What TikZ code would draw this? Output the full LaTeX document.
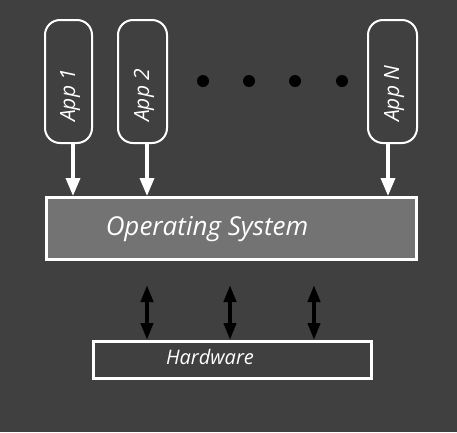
\documentclass[tikz,border=0pt]{standalone}
\usepackage{fontspec}
\setmainfont{Open Sans}
\usetikzlibrary{arrows.meta}
\definecolor{bg}{HTML}{404040}
\definecolor{osgray}{HTML}{737373}
\begin{document}
\begin{tikzpicture}[x=1pt,y=-1pt,
  appbox/.style={draw=white,line width=2pt,rounded corners=15pt,inner sep=0pt},
  applabel/.style={text=white,font=\itshape\fontsize{21}{21}\selectfont,rotate=90,anchor=base west,inner sep=0pt},
  downarrow/.style={draw=white,line width=3.5pt,-{Triangle[width=14pt,length=18pt]}},
  dblarrow/.style={draw=black,line width=4pt,{Triangle[width=12pt,length=17pt]}-{Triangle[width=12pt,length=17pt]}},
  dotstyle/.style={circle,fill=black,inner sep=0pt,minimum size=12pt}]
\fill[bg] (0,0) rectangle (457,432);
\useasboundingbox (0,0) rectangle (457,432);
% apps
\draw[appbox] (45,20) rectangle (92,143);
\draw[appbox] (118,20) rectangle (167,143);
\draw[appbox] (368,20) rectangle (417,143);
\node[applabel] (l1) at (75,122) {App 1};
\node[applabel] (l2) at (149,122) {App 2};
\node[applabel] (lN) at (399,122) {App N};
\coordinate (a1) at (73,143);
\coordinate (a2) at (147,143);
\coordinate (aN) at (388,143);
% dots
\node[dotstyle] (d1) at (203,81) {};
\node[dotstyle] (d2) at (249,81) {};
\node[dotstyle] (d3) at (295,81) {};
\node[dotstyle] (d4) at (342,81) {};
% OS
\draw[draw=white,fill=osgray,line width=3pt] (46,197) rectangle (416,259);
\node[text=white,font=\itshape\fontsize{26}{26}\selectfont] (os) at (207,229) {Operating System};
\coordinate (o1) at (73,196);
\coordinate (o2) at (147,196);
\coordinate (oN) at (388,196);
\draw[downarrow] (a1) -- (o1);
\draw[downarrow] (a2) -- (o2);
\draw[downarrow] (aN) -- (oN);
% hardware
\draw[draw=white,line width=3pt] (93,341) rectangle (371,378);
\node[text=white,font=\itshape\fontsize{20}{20}\selectfont] (hw) at (210,357) {Hardware};
\coordinate (t1) at (147,285);
\coordinate (t2) at (230,285);
\coordinate (t3) at (314,285);
\coordinate (b1) at (147,340);
\coordinate (b2) at (230,340);
\coordinate (b3) at (314,340);
\draw[dblarrow] (t1) -- (b1);
\draw[dblarrow] (t2) -- (b2);
\draw[dblarrow] (t3) -- (b3);
\end{tikzpicture}
\end{document}
